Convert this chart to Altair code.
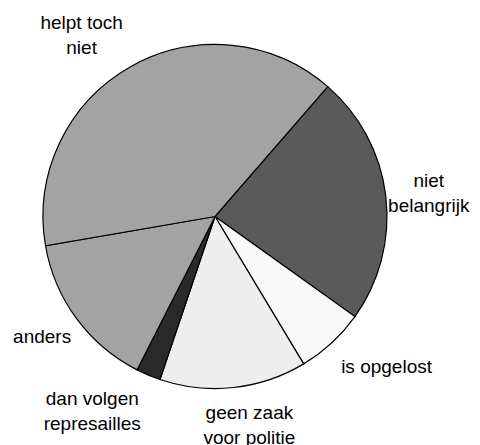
import math
import altair as alt
import pandas as pd

# data
labels = ["niet\nbelangrijk", "is opgelost", "geen zaak\nvoor politie",
          "dan volgen\nrepresailles", "anders", "helpt toch\nniet"]
values = [23.5, 6.5, 13.8, 2.3, 14.8, 39.1]
order = [0, 1, 2, 3, 4, 5]
colors = ["#5a5a5a", "#f8f8f8", "#eeeeee", "#2a2a2a", "#a3a3a3", "#a3a3a3"]

df = pd.DataFrame({"label": labels, "value": values, "order": order})

# label styling: alignment and nudge from the anchor point just outside the rim
label_style = {
    "niet\nbelangrijk": dict(align="center", dx=35, dy=-23),
    "is opgelost": dict(align="left", dx=4, dy=9),
    "geen zaak\nvoor politie": dict(align="center", dx=15, dy=9),
    "dan volgen\nrepresailles": dict(align="center", dx=-53, dy=8),
    "anders": dict(align="right", dx=1, dy=5),
    "helpt toch\nniet": dict(align="center", dx=-45, dy=-46),
}

start_angle = math.radians(40.97)
theta_scale = alt.Scale(domain=[0, 100], range=[start_angle, start_angle + 2 * math.pi])
color_scale = alt.Scale(domain=labels, range=colors)

base = alt.Chart(df).transform_window(
    end="sum(value)", sort=[alt.SortField("order")], frame=[None, 0]
).transform_calculate(
    start="datum.end - datum.value",
    mid="datum.end - datum.value / 2",
)

arcs = base.mark_arc(stroke="black", strokeWidth=1.2, outerRadius=172).encode(
    theta=alt.Theta("start:Q", scale=theta_scale),
    theta2="end:Q",
    color=alt.Color("label:N", scale=color_scale, legend=None),
)

text_layers = []
for lab in labels:
    st = label_style[lab]
    t = base.transform_filter(alt.datum.label == lab).mark_text(
        radius=180,
        align=st["align"],
        baseline="top",
        dx=st["dx"],
        dy=st["dy"],
        font="Liberation Sans",
        fontSize=19,
        lineHeight=25,
        lineBreak="\n",
        color="black",
    ).encode(
        theta=alt.Theta("mid:Q", scale=theta_scale),
        text="label:N",
    )
    text_layers.append(t)

chart = alt.layer(arcs, *text_layers).properties(
    width=344,
    height=344,
    padding={"left": 35, "top": 36.5, "right": 85, "bottom": 56},
    autosize=alt.AutoSizeParams(type="none"),
).configure_view(stroke=None).configure(background="white")

chart.save("out.html", embed_options={"renderer": "svg", "actions": False})
